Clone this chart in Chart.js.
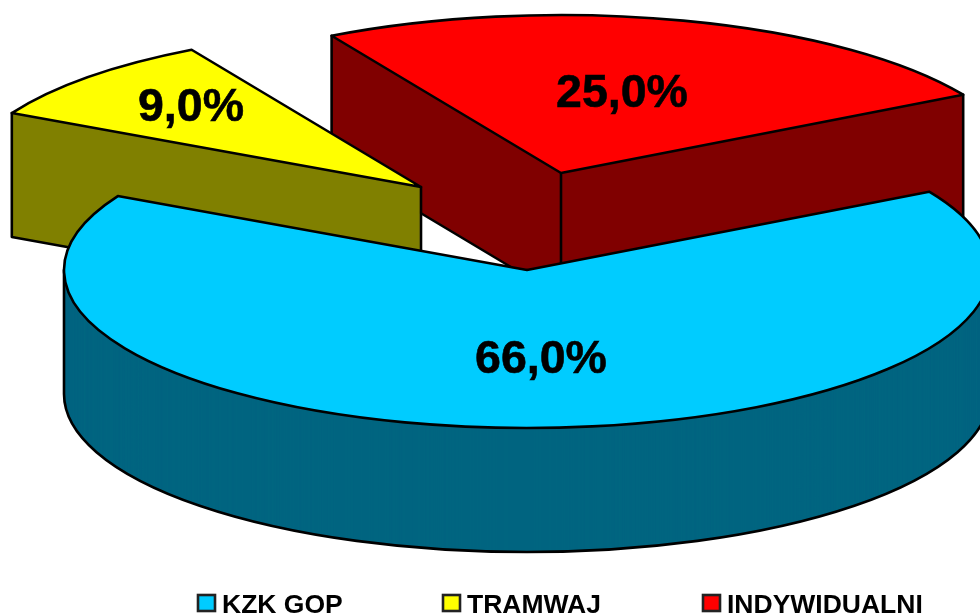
<!DOCTYPE html>
<html>
<head>
<meta charset="utf-8">
<title>Udzial</title>
<script src="https://cdn.jsdelivr.net/npm/chart.js@4"></script>
<style>
    html, body { margin: 0; padding: 0; background: #fff; overflow: hidden; }
    #wrap { width: 980px; height: 615px; }
</style>
</head>
<body>
<div id="wrap"><canvas id="pie3d"></canvas></div>
<script>
// chart data
const categories = ['KZK GOP', 'TRAMWAJ', 'INDYWIDUALNI'];
const shares = [66, 9, 25];

// look of the slices
const topColors = ['#00CCFF', '#FFFF00', '#FF0000'];
const wallColors = ['#006680', '#808000', '#800000'];
const sliceCenters = [[527, 270], [421, 187], [561, 173]];
const labelCenters = [[541, 360], [191, 108], [622, 94]];
const legendX = [198, 443, 703];
const drawOrder = [2, 1, 0];

const RX = 463;
const RY = 158;
const DEPTH = 124;
const LINE = 2.6;
const FONT = '"Liberation Sans", Arial, sans-serif';

// Fill one arc element through its own draw(), squashed to an ellipse
function fillArc(ctx, el, center, dy, color) {
    const saved = el.options;
    el.options = Object.assign({}, saved, { backgroundColor: color, borderWidth: 0 });
    ctx.save();
    ctx.translate(center[0], center[1] + dy);
    ctx.scale(1, RY / el.outerRadius);
    ctx.translate(-el.x, -el.y);
    el.draw(ctx);
    ctx.restore();
    el.options = saved;
}

function outlineArc(ctx, el, center) {
    ctx.beginPath();
    ctx.moveTo(center[0], center[1]);
    ctx.ellipse(center[0], center[1], RX, RY, 0, el.startAngle, el.endAngle);
    ctx.closePath();
    ctx.stroke();
}

// Corner of the wall: vertical edge plus the bottom edge back to the apex
function wallCorner(ctx, center, angle) {
    const x = center[0] + RX * Math.cos(angle);
    const y = center[1] + RY * Math.sin(angle);
    ctx.beginPath();
    ctx.moveTo(x, y);
    ctx.lineTo(x, y + DEPTH);
    ctx.lineTo(center[0], center[1] + DEPTH);
    ctx.stroke();
}

// Only the edges of a slice's wall that can be seen
function drawEdges(ctx, el, center) {
    const [cx, cy] = center;
    ctx.beginPath();
    ctx.moveTo(cx, cy);
    ctx.lineTo(cx, cy + DEPTH);
    ctx.stroke();
    if (Math.cos(el.startAngle) < 0) wallCorner(ctx, center, el.startAngle);
    if (Math.cos(el.endAngle) > 0) wallCorner(ctx, center, el.endAngle);

    // round side: lower half of the bottom ellipse and its silhouette
    const from = Math.max(el.startAngle, 0);
    const to = Math.min(el.endAngle, Math.PI);
    if (from < to) {
        ctx.beginPath();
        if (to === Math.PI) {
            ctx.moveTo(cx - RX, cy);
        }
        ctx.ellipse(cx, cy + DEPTH, RX, RY, 0, to, from, true);
        if (from === 0) {
            ctx.lineTo(cx + RX, cy);
        }
        ctx.stroke();
    }
}

const pie3d = {
    id: 'pie3d',
    beforeDatasetsDraw(chart) {
        const ctx = chart.ctx;
        const arcs = chart.getDatasetMeta(0).data;
        ctx.save();
        ctx.strokeStyle = '#000';
        ctx.lineWidth = LINE;
        ctx.lineJoin = 'round';
        ctx.lineCap = 'round';
        drawOrder.forEach(i => {
            const el = arcs[i];
            const center = sliceCenters[i];
            // small steps, the tip of a slice is thinner than a pixel
            for (let dy = DEPTH; dy > 0; dy -= 0.25) {
                fillArc(ctx, el, center, dy, wallColors[i]);
            }
            drawEdges(ctx, el, center);
            fillArc(ctx, el, center, 0, topColors[i]);
            outlineArc(ctx, el, center);
        });
        ctx.restore();
        return false;
    },
    afterDraw(chart) {
        const ctx = chart.ctx;
        ctx.save();
        ctx.fillStyle = '#000';
        ctx.strokeStyle = '#000';
        ctx.textAlign = 'center';
        ctx.textBaseline = 'middle';
        ctx.font = 'bold 46.5px ' + FONT;
        ctx.lineWidth = 0.6;
        shares.forEach((v, i) => {
            const text = v.toFixed(1).replace('.', ',') + '%';
            ctx.fillText(text, labelCenters[i][0], labelCenters[i][1]);
            ctx.strokeText(text, labelCenters[i][0], labelCenters[i][1]);
        });
        // legend row, cut by the bottom of the picture like the original
        ctx.textAlign = 'left';
        ctx.textBaseline = 'alphabetic';
        ctx.font = 'bold 26.5px ' + FONT;
        categories.forEach((name, i) => {
            ctx.fillStyle = topColors[i];
            ctx.strokeStyle = '#222';
            ctx.lineWidth = 2.6;
            ctx.fillRect(legendX[i], 595, 17, 16);
            ctx.strokeRect(legendX[i], 595, 17, 16);
            ctx.fillStyle = '#000';
            ctx.fillText(name, legendX[i] + 24, 613);
        });
        ctx.restore();
    }
};

new Chart(document.getElementById('pie3d'), {
    type: 'pie',
    data: {
        labels: categories,
        datasets: [{
            data: shares,
            backgroundColor: topColors,
            borderWidth: 0
        }]
    },
    options: {
        responsive: true,
        maintainAspectRatio: false,
        animation: false,
        radius: RX,
        rotation: 60.3,
        plugins: {
            legend: { display: false },
            tooltip: { enabled: false }
        }
    },
    plugins: [pie3d]
});
</script>
</body>
</html>
